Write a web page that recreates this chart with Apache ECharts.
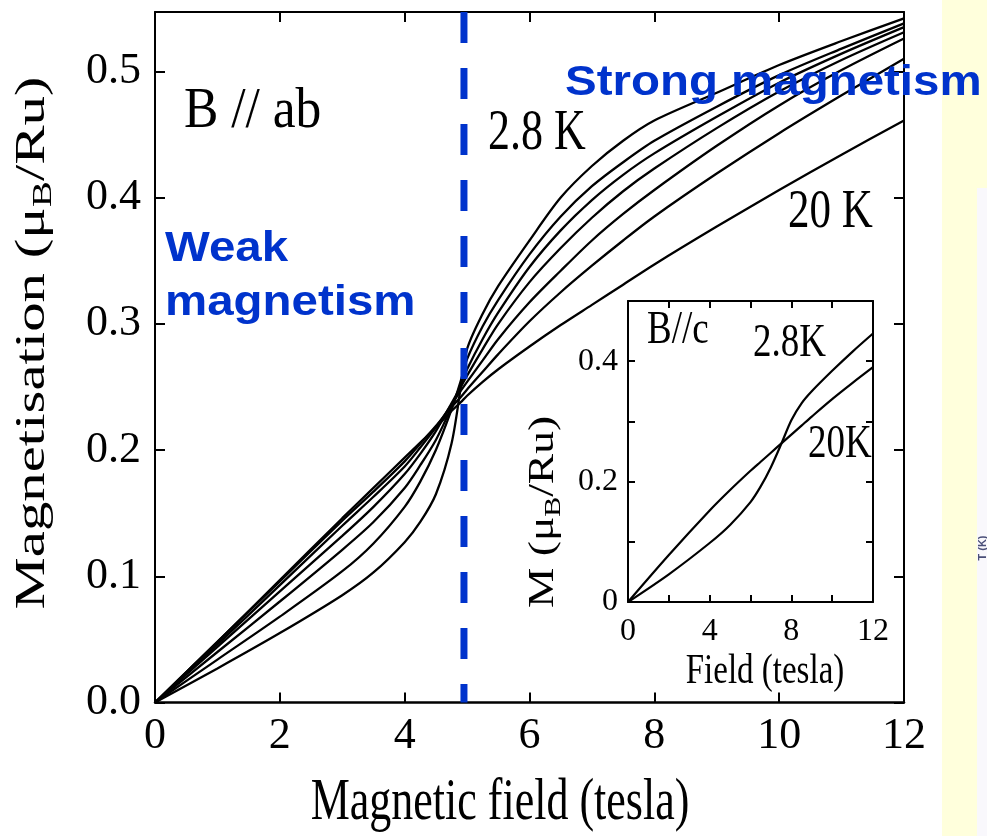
<!DOCTYPE html>
<html><head><meta charset="utf-8">
<script src="https://cdn.jsdelivr.net/npm/echarts@6/dist/echarts.min.js"></script>
<style>html,body{margin:0;padding:0;background:#fff}#c{width:987px;height:836px}</style>
</head><body><div id="c"></div>
<script>
// ---- data ----
const fieldB = [0,1,2,3,3.5,4,4.25,4.5,4.75,4.9,5,5.25,5.5,6,6.5,7,7.5,8,9,10,11,12];
const m_2_8K = [0,.027,.055,.085,.103,.127,.143,.165,.205,.250,.280,.308,.330,.366,.400,.425,.445,.461,.483,.505,.524,.542];
const m_4K   = [0,.034,.068,.104,.126,.155,.175,.200,.232,.255,.272,.298,.319,.355,.385,.409,.428,.445,.472,.497,.518,.538];
const m_6K   = [0,.040,.080,.121,.143,.170,.188,.208,.234,.252,.264,.288,.309,.345,.374,.398,.418,.435,.464,.491,.514,.535];
const m_8K   = [0,.044,.088,.132,.155,.181,.197,.215,.237,.250,.259,.280,.300,.333,.360,.384,.405,.423,.455,.484,.509,.531];
const m_10K  = [0,.046,.093,.140,.163,.187,.202,.218,.236,.247,.254,.271,.288,.317,.342,.366,.387,.406,.441,.473,.501,.526];
const m_14K  = [0,.048,.096,.144,.167,.191,.205,.219,.234,.242,.248,.262,.276,.302,.325,.346,.366,.385,.419,.451,.481,.510];
const m_20K  = [0,.048,.097,.146,.170,.194,.206,.218,.231,.238,.243,.254,.264,.282,.299,.315,.331,.347,.377,.406,.434,.461];
const mainSeries = [m_2_8K, m_4K, m_6K, m_8K, m_10K, m_14K, m_20K];
const mainNames = ['2.8 K','4 K','6 K','8 K','10 K','14 K','20 K'];

const insetB      = [0,2,4,5,6,6.5,7,7.5,8,8.5,9,10,11,12];
const insetM_2_8K = [0,.046,.098,.128,.166,.192,.224,.262,.302,.330,.350,.384,.416,.446];
const insetM_20K  = [0,.078,.152,.186,.218,.233,.248,.263,.278,.293,.308,.337,.364,.390];

const mainXTicks = [0,2,4,6,8,10,12];
const mainYTicks = ['0.0','0.1','0.2','0.3','0.4','0.5'];
const insetXTicks = [0,4,8,12];
const insetYTicks = {0:'0', 2:'0.2', 4:'0.4'};
const boundaryField = 4.95;

// ---- chart ----
const SERIF = 'Liberation Serif';
const SANS = 'Liberation Sans';
const BLUE = '#0033CC';
const chart = echarts.init(document.getElementById('c'), null, {renderer:'canvas'});

function ax(extra){
  return Object.assign({
    type:'value', splitLine:{show:false},
    axisLine:{show:true, onZero:false, lineStyle:{color:'#000', width:2}},
    axisTick:{show:true, inside:true, length:10, lineStyle:{color:'#000', width:2}},
  }, extra);
}

const series = [];
mainSeries.forEach((arr, k) => {
  series.push({
    name: mainNames[k], type:'line', xAxisIndex:0, yAxisIndex:0,
    data: fieldB.map((b,i)=>[b, arr[i]]),
    showSymbol:false, smooth:0.3, silent:true,
    lineStyle:{color:'#000', width:2.3}
  });
});
series.push({
  name:'boundary', type:'line', xAxisIndex:0, yAxisIndex:0, z:5,
  data:[[boundaryField, 0.547],[boundaryField, 0]],
  showSymbol:false, silent:true,
  lineStyle:{color:BLUE, width:7, type:[31,25], cap:'butt'}
});
series.push({
  name:'c 2.8K', type:'line', xAxisIndex:2, yAxisIndex:2,
  data: insetB.map((b,i)=>[b, insetM_2_8K[i]]),
  showSymbol:false, smooth:0.3, silent:true, lineStyle:{color:'#000', width:2.2}
});
series.push({
  name:'c 20K', type:'line', xAxisIndex:2, yAxisIndex:2,
  data: insetB.map((b,i)=>[b, insetM_20K[i]]),
  showSymbol:false, smooth:0.3, silent:true, lineStyle:{color:'#000', width:2.2}
});

const option = {
  animation:false,
  backgroundColor:'#fff',
  grid:[
    {left:155, top:12, width:749, height:690.5},
    {left:628, top:301, width:245, height:301, show:true, backgroundColor:'#fff', borderWidth:0}
  ],
  xAxis:[
    ax({gridIndex:0, min:0, max:12, interval:2, position:'bottom',
        axisLine:{show:true, onZero:false, lineStyle:{color:'#000', width:2.5}},
        axisLabel:{color:'#000', fontFamily:SERIF, fontSize:44, margin:12,
          formatter:v=>mainXTicks.includes(v)?String(v):''}}),
    ax({gridIndex:0, min:0, max:12, interval:2, position:'top', axisLabel:{show:false}}),
    ax({gridIndex:1, min:0, max:12, interval:2, position:'bottom', axisTick:{show:true, inside:true, length:7, lineStyle:{color:'#000', width:2}},
        axisLabel:{color:'#000', fontFamily:SERIF, fontSize:32, margin:14,
          formatter:v=>insetXTicks.includes(v)?String(v):''}}),
    ax({gridIndex:1, min:0, max:12, interval:2, position:'top', axisTick:{show:true, inside:true, length:7, lineStyle:{color:'#000', width:2}}, axisLabel:{show:false}})
  ],
  yAxis:[
    ax({gridIndex:0, min:0, max:0.547, interval:0.1, position:'left',
        axisLabel:{color:'#000', fontFamily:SERIF, fontSize:44, margin:14, showMaxLabel:false,
          formatter:v=>{const k=Math.round(v*10); return (Math.abs(v*10-k)<1e-6 && mainYTicks[k])?mainYTicks[k]:'';}}}),
    ax({gridIndex:0, min:0, max:0.547, interval:0.1, position:'right', axisLabel:{show:false}}),
    ax({gridIndex:1, min:0, max:0.5, interval:0.1, position:'left', axisTick:{show:true, inside:true, length:7, lineStyle:{color:'#000', width:2}},
        axisLabel:{color:'#000', fontFamily:SERIF, fontSize:32, margin:10, showMaxLabel:false,
          formatter:v=>{const k=Math.round(v*10); return insetYTicks[k]!==undefined?insetYTicks[k]:'';}}}),
    ax({gridIndex:1, min:0, max:0.5, interval:0.1, position:'right', axisTick:{show:true, inside:true, length:7, lineStyle:{color:'#000', width:2}}, axisLabel:{show:false}})
  ],
  series: series,
  graphic:[
    {type:'rect', shape:{x:942, y:0, width:45, height:836}, style:{fill:'#FFFFDC'}, silent:true, z:0},
    {type:'rect', shape:{x:977, y:188, width:10, height:648}, style:{fill:'#F9F8FC'}, silent:true, z:0},
    {type:'text', x:983, y:548, rotation:Math.PI/2, silent:true,
      style:{text:'T (K)', font:'bold 11px '+SANS, fill:'#4A4F78', textAlign:'center', textVerticalAlign:'middle'}},
    // axis titles
    {type:'text', x:33, y:343, rotation:Math.PI/2, scaleX:1.40, silent:true,
      style:{text:'{n|Magnetisation (μ}{s|B}{n|/Ru)}', textAlign:'center', textVerticalAlign:'middle',
        rich:{n:{fontFamily:SERIF, fontSize:42, fill:'#000', lineHeight:50},
              s:{fontFamily:SERIF, fontSize:28, fill:'#000', lineHeight:28, verticalAlign:'bottom'}}}},
    {type:'text', x:500, y:803, scaleY:1.35, silent:true,
      style:{text:'Magnetic field (tesla)', font:'44px '+SERIF, fill:'#000', textAlign:'center', textVerticalAlign:'middle'}},
    // annotations
    {type:'text', x:184, y:112, scaleX:1.12, scaleY:1.25, silent:true,
      style:{text:'B // ab', font:'46px '+SERIF, fill:'#000', textAlign:'left', textVerticalAlign:'middle'}},
    {type:'text', x:488, y:134, scaleY:1.3, silent:true,
      style:{text:'2.8 K', font:'44px '+SERIF, fill:'#000', textAlign:'left', textVerticalAlign:'middle'}},
    {type:'text', x:788, y:212, scaleY:1.3, silent:true,
      style:{text:'20 K', font:'43px '+SERIF, fill:'#000', textAlign:'left', textVerticalAlign:'middle'}},
    // inset labels
    {type:'text', x:647, y:331, scaleY:1.25, silent:true, z:10,
      style:{text:'B//c', font:'37px '+SERIF, fill:'#000', textAlign:'left', textVerticalAlign:'middle'}},
    {type:'text', x:753, y:344, scaleY:1.25, silent:true, z:10,
      style:{text:'2.8K', font:'37px '+SERIF, fill:'#000', textAlign:'left', textVerticalAlign:'middle'}},
    {type:'text', x:808, y:445, scaleY:1.25, silent:true, z:10,
      style:{text:'20K', font:'37px '+SERIF, fill:'#000', textAlign:'left', textVerticalAlign:'middle'}},
    {type:'text', x:765, y:672, scaleY:1.3, silent:true, z:10,
      style:{text:'Field (tesla)', font:'33px '+SERIF, fill:'#000', textAlign:'center', textVerticalAlign:'middle'}},
    {type:'text', x:544, y:512, rotation:Math.PI/2, scaleX:1.3, silent:true, z:10,
      style:{text:'{n|M (μ}{s|B}{n|/Ru)}', textAlign:'center', textVerticalAlign:'middle',
        rich:{n:{fontFamily:SERIF, fontSize:35, fill:'#000', lineHeight:42},
              s:{fontFamily:SERIF, fontSize:23, fill:'#000', lineHeight:23, verticalAlign:'bottom'}}}},
    // blue overlay texts
    {type:'text', x:565, y:83, scaleX:1.13, silent:true, z:20,
      style:{text:'Strong magnetism', font:'bold 42px '+SANS, fill:BLUE, textAlign:'left', textVerticalAlign:'middle'}},
    {type:'text', x:165, y:249, scaleX:1.13, silent:true, z:20,
      style:{text:'Weak', font:'bold 42px '+SANS, fill:BLUE, textAlign:'left', textVerticalAlign:'middle'}},
    {type:'text', x:165, y:303, scaleX:1.13, silent:true, z:20,
      style:{text:'magnetism', font:'bold 42px '+SANS, fill:BLUE, textAlign:'left', textVerticalAlign:'middle'}}
  ]
};
chart.setOption(option);
</script>
</body></html>
